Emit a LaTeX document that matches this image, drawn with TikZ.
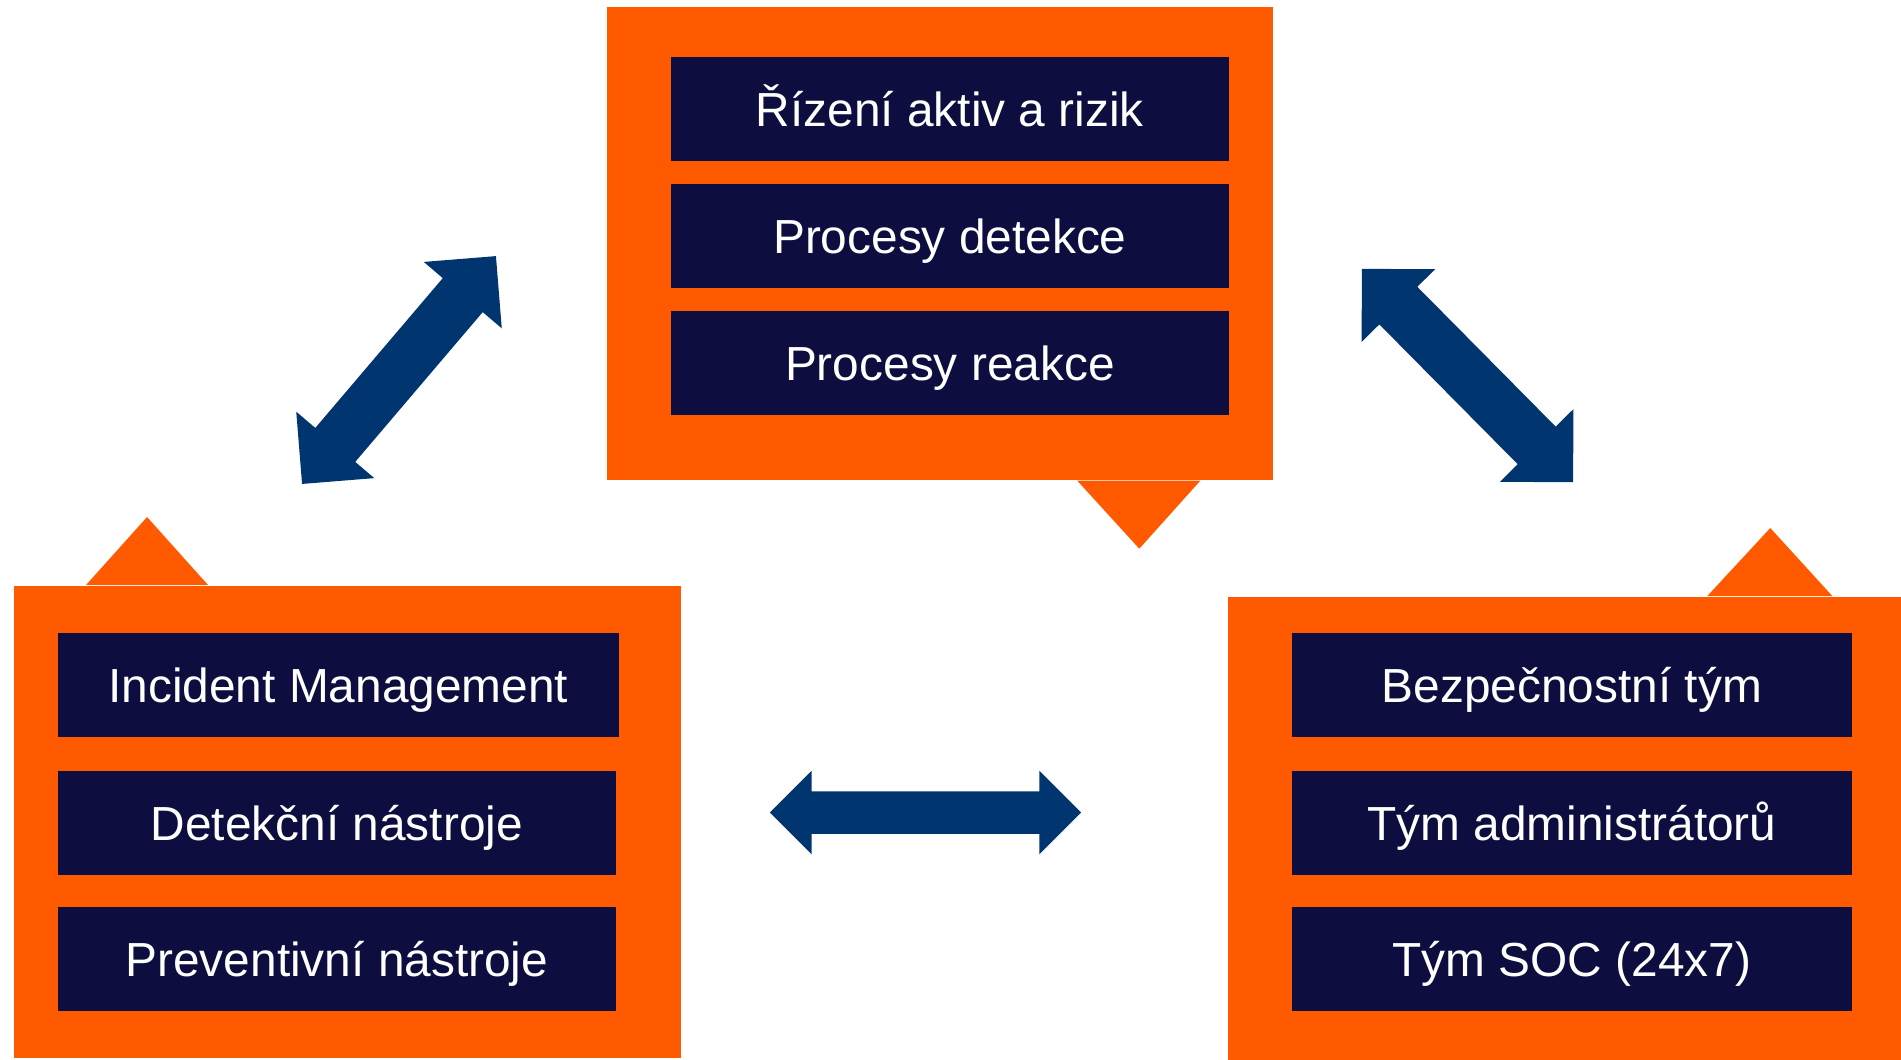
\documentclass[tikz,border=0pt]{standalone}
\usepackage{fontspec}
\setmainfont{Liberation Sans}
\usepackage{tikz}
\usetikzlibrary{positioning,shapes.arrows}
\definecolor{panelorange}{HTML}{FF5A00}
\definecolor{boxnavy}{HTML}{0D0E3F}
\definecolor{arrowblue}{HTML}{003570}

\begin{document}
\begin{tikzpicture}[
    x=0.01cm, y=-0.01cm,
    node distance=0.21cm,
    panel/.style={rectangle, fill=panelorange, anchor=north west, inner sep=0pt},
    item/.style={rectangle, fill=boxnavy, text=white, minimum width=5.58cm, minimum height=1.045cm, inner sep=0pt, text height=1.0em, text depth=0pt, font=\fontsize{13.6}{16}\selectfont},
    link/.style={double arrow, fill=arrowblue, inner xsep=0pt, inner ysep=0.255cm, double arrow head extend=0.25cm}
]
    \useasboundingbox (0,0) rectangle (1901,1059);

    % Processes
    \node[panel, minimum width=6.66cm, minimum height=4.73cm] (proc) at (606,6) {};
    \fill[panelorange] ([xshift=4.71cm]proc.south west) -- ++(62,68) -- ++(61,-68) -- cycle;
    \node[item, anchor=north west] (risk) at (670,56) {Řízení aktiv a rizik};
    \node[item, below=of risk] (detect) {Procesy detekce};
    \node[item, below=of detect] (react) {Procesy reakce};

    % Tools
    \node[panel, minimum width=6.67cm, minimum height=4.72cm] (tools) at (13,585) {};
    \fill[panelorange] ([xshift=0.73cm]tools.north west) -- ++(61,-68) -- ++(61,68) -- cycle;
    \node[item, anchor=north west, minimum width=5.61cm] (incident) at (57,632) {Incident Management};
    \node[item, below=0.32cm of incident.south west, anchor=north west] (dettools) {Detekční nástroje};
    \node[item, below=0.30cm of dettools] (prevtools) {Preventivní nástroje};

    % Teams
    \node[panel, minimum width=6.74cm, minimum height=4.63cm] (teams) at (1227,596) {};
    \fill[panelorange] ([xshift=4.80cm]teams.north west) -- ++(63,-68) -- ++(62,68) -- cycle;
    \node[item, anchor=north west, minimum width=5.60cm] (secteam) at (1291,632) {Bezpečnostní tým};
    \node[item, minimum width=5.60cm, below=0.32cm of secteam] (admins) {Tým administrátorů};
    \node[item, minimum width=5.60cm, below=0.30cm of admins] (soc) {Tým SOC (24x7)};

    % Links
    \node[link, minimum height=2.99cm, rotate=49.6] (toolsproc) at (399,370) {};
    \node[link, minimum height=3.00cm, inner ysep=0.26cm, rotate=-45.3] (procteams) at (1467.5,375.5) {};
    \node[link, minimum height=3.11cm, inner ysep=0.205cm, double arrow head extend=0.205cm] (toolsteams) at (925.5,812.5) {};
\end{tikzpicture}
\end{document}
